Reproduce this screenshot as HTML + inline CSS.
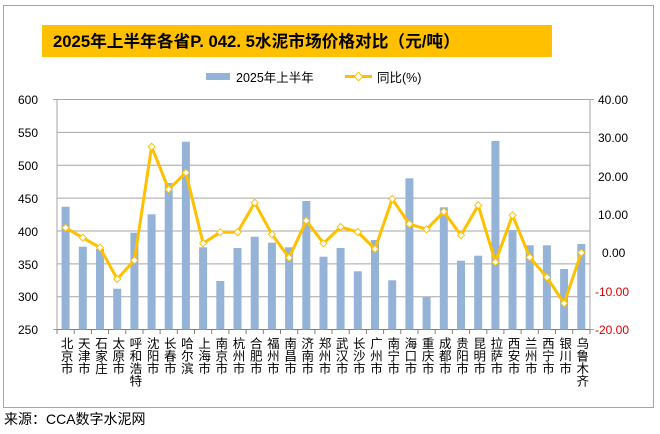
<!DOCTYPE html>
<html><head><meta charset="utf-8"><style>
body{margin:0;background:#fff;width:660px;height:434px;overflow:hidden}
svg{display:block}
text{font-family:"Liberation Sans","Noto Sans CJK SC",sans-serif}
.cat{writing-mode:tb;glyph-orientation-vertical:0;font-size:12.5px;fill:#000}
</style></head><body>
<svg width="660" height="434" viewBox="0 0 660 434">
<rect x="3.5" y="5.5" width="650" height="402" fill="#fff" stroke="#a6a6a6" stroke-width="1"/>
<rect x="42" y="25" width="510" height="32" fill="#ffc000"/>
<text x="53" y="47" font-size="16.7" font-weight="bold" fill="#000">2025年上半年各省P. 042. 5水泥市场价格对比（元/吨）</text>
<rect x="206" y="73" width="24" height="7" fill="#95b3d7"/>
<text x="236" y="82" font-size="12.5">2025年上半年</text>
<line x1="345" y1="76.5" x2="372" y2="76.5" stroke="#ffc000" stroke-width="3"/>
<rect x="355.5" y="73.5" width="6" height="6" transform="rotate(45 358.5 76.5)" fill="#fff" stroke="#ffc000"/>
<text x="377" y="82" font-size="12.5">同比(%)</text>
<g stroke="#a6a6a6" stroke-width="1">
<line x1="57" y1="99.5" x2="590" y2="99.5"/><line x1="57" y1="132.4" x2="590" y2="132.4"/><line x1="57" y1="165.3" x2="590" y2="165.3"/><line x1="57" y1="198.1" x2="590" y2="198.1"/><line x1="57" y1="231" x2="590" y2="231"/><line x1="57" y1="263.9" x2="590" y2="263.9"/><line x1="57" y1="296.7" x2="590" y2="296.7"/>
<line x1="57" y1="99" x2="57" y2="330"/><line x1="590" y1="99" x2="590" y2="330"/>
<line x1="53" y1="99.5" x2="57" y2="99.5"/><line x1="53" y1="329.5" x2="57" y2="329.5"/>
<line x1="590" y1="99.5" x2="594" y2="99.5"/><line x1="590" y1="329.5" x2="594" y2="329.5"/>
</g>
<line x1="57" y1="329.5" x2="590" y2="329.5" stroke="#808080"/>
<g stroke="#808080">
<line x1="57" y1="330" x2="57" y2="334"/><line x1="74.2" y1="330" x2="74.2" y2="334"/><line x1="91.4" y1="330" x2="91.4" y2="334"/><line x1="108.6" y1="330" x2="108.6" y2="334"/><line x1="125.8" y1="330" x2="125.8" y2="334"/><line x1="143" y1="330" x2="143" y2="334"/><line x1="160.1" y1="330" x2="160.1" y2="334"/><line x1="177.3" y1="330" x2="177.3" y2="334"/><line x1="194.5" y1="330" x2="194.5" y2="334"/><line x1="211.7" y1="330" x2="211.7" y2="334"/><line x1="228.9" y1="330" x2="228.9" y2="334"/><line x1="246.1" y1="330" x2="246.1" y2="334"/><line x1="263.3" y1="330" x2="263.3" y2="334"/><line x1="280.5" y1="330" x2="280.5" y2="334"/><line x1="297.7" y1="330" x2="297.7" y2="334"/><line x1="314.9" y1="330" x2="314.9" y2="334"/><line x1="332" y1="330" x2="332" y2="334"/><line x1="349.2" y1="330" x2="349.2" y2="334"/><line x1="366.4" y1="330" x2="366.4" y2="334"/><line x1="383.6" y1="330" x2="383.6" y2="334"/><line x1="400.8" y1="330" x2="400.8" y2="334"/><line x1="418" y1="330" x2="418" y2="334"/><line x1="435.2" y1="330" x2="435.2" y2="334"/><line x1="452.4" y1="330" x2="452.4" y2="334"/><line x1="469.6" y1="330" x2="469.6" y2="334"/><line x1="486.8" y1="330" x2="486.8" y2="334"/><line x1="503.9" y1="330" x2="503.9" y2="334"/><line x1="521.1" y1="330" x2="521.1" y2="334"/><line x1="538.3" y1="330" x2="538.3" y2="334"/><line x1="555.5" y1="330" x2="555.5" y2="334"/><line x1="572.7" y1="330" x2="572.7" y2="334"/><line x1="590" y1="330" x2="590" y2="334"/>
</g>
<g font-size="12" text-anchor="end" fill="#000">
<text x="38" y="104">600</text><text x="38" y="137">550</text><text x="38" y="170">500</text><text x="38" y="203">450</text><text x="38" y="236">400</text><text x="38" y="269">350</text><text x="38" y="301">300</text><text x="38" y="334">250</text>
</g>
<g font-size="12">
<text x="598" y="104">40.00</text><text x="598" y="142">30.00</text><text x="598" y="181">20.00</text><text x="598" y="219">10.00</text><text x="602" y="257">0.00</text><text x="595" y="296" fill="#e00000">-10.00</text><text x="595" y="334" fill="#e00000">-20.00</text>
</g>
<g fill="#95b3d7">
<rect x="61.6" y="206.7" width="8" height="122.8"/><rect x="78.8" y="246.7" width="8" height="82.8"/><rect x="96" y="249" width="8" height="80.5"/><rect x="113.2" y="288.7" width="8" height="40.8"/><rect x="130.4" y="232.7" width="8" height="96.8"/><rect x="147.6" y="214.3" width="8" height="115.2"/><rect x="164.7" y="183" width="8" height="146.5"/><rect x="181.9" y="141.7" width="8" height="187.8"/><rect x="199.1" y="247.3" width="8" height="82.2"/><rect x="216.3" y="281" width="8" height="48.5"/><rect x="233.5" y="248" width="8" height="81.5"/><rect x="250.7" y="236.7" width="8" height="92.8"/><rect x="267.9" y="242.7" width="8" height="86.8"/><rect x="285.1" y="247.3" width="8" height="82.2"/><rect x="302.3" y="201" width="8" height="128.5"/><rect x="319.5" y="256.7" width="8" height="72.8"/><rect x="336.6" y="248" width="8" height="81.5"/><rect x="353.8" y="271.3" width="8" height="58.2"/><rect x="371" y="240" width="8" height="89.5"/><rect x="388.2" y="280.3" width="8" height="49.2"/><rect x="405.4" y="178.3" width="8" height="151.2"/><rect x="422.6" y="296.7" width="8" height="32.8"/><rect x="439.8" y="207.3" width="8" height="122.2"/><rect x="457" y="260.7" width="8" height="68.8"/><rect x="474.2" y="255.7" width="8" height="73.8"/><rect x="491.4" y="141" width="8" height="188.5"/><rect x="508.5" y="230" width="8" height="99.5"/><rect x="525.7" y="245.3" width="8" height="84.2"/><rect x="542.9" y="245.3" width="8" height="84.2"/><rect x="560.1" y="269" width="8" height="60.5"/><rect x="577.3" y="244" width="8" height="85.5"/>
</g>
<polyline fill="none" stroke="#ffc000" stroke-width="3" stroke-linejoin="round" points="65.6,227.7 82.8,237.7 100,247.7 117.2,279 134.4,260.3 151.6,146.7 168.7,189.3 185.9,172.7 203.1,243.3 220.3,232.3 237.5,232.3 254.7,202.7 271.9,234.3 289.1,257.7 306.3,220.7 323.5,243.3 340.6,227 357.8,232 375,249 392.2,199 409.4,224 426.6,229.3 443.8,211.7 461,235.3 478.2,205.3 495.4,262 512.5,215.3 529.7,257.3 546.9,277.3 564.1,303.3 581.3,252.7"/>
<g fill="#fff" stroke="#ffc000" stroke-width="1">
<path d="M65.6,224.2l3.5,3.5l-3.5,3.5l-3.5,-3.5z"/><path d="M82.8,234.2l3.5,3.5l-3.5,3.5l-3.5,-3.5z"/><path d="M100,244.2l3.5,3.5l-3.5,3.5l-3.5,-3.5z"/><path d="M117.2,275.5l3.5,3.5l-3.5,3.5l-3.5,-3.5z"/><path d="M134.4,256.8l3.5,3.5l-3.5,3.5l-3.5,-3.5z"/><path d="M151.6,143.2l3.5,3.5l-3.5,3.5l-3.5,-3.5z"/><path d="M168.7,185.8l3.5,3.5l-3.5,3.5l-3.5,-3.5z"/><path d="M185.9,169.2l3.5,3.5l-3.5,3.5l-3.5,-3.5z"/><path d="M203.1,239.8l3.5,3.5l-3.5,3.5l-3.5,-3.5z"/><path d="M220.3,228.8l3.5,3.5l-3.5,3.5l-3.5,-3.5z"/><path d="M237.5,228.8l3.5,3.5l-3.5,3.5l-3.5,-3.5z"/><path d="M254.7,199.2l3.5,3.5l-3.5,3.5l-3.5,-3.5z"/><path d="M271.9,230.8l3.5,3.5l-3.5,3.5l-3.5,-3.5z"/><path d="M289.1,254.2l3.5,3.5l-3.5,3.5l-3.5,-3.5z"/><path d="M306.3,217.2l3.5,3.5l-3.5,3.5l-3.5,-3.5z"/><path d="M323.5,239.8l3.5,3.5l-3.5,3.5l-3.5,-3.5z"/><path d="M340.6,223.5l3.5,3.5l-3.5,3.5l-3.5,-3.5z"/><path d="M357.8,228.5l3.5,3.5l-3.5,3.5l-3.5,-3.5z"/><path d="M375,245.5l3.5,3.5l-3.5,3.5l-3.5,-3.5z"/><path d="M392.2,195.5l3.5,3.5l-3.5,3.5l-3.5,-3.5z"/><path d="M409.4,220.5l3.5,3.5l-3.5,3.5l-3.5,-3.5z"/><path d="M426.6,225.8l3.5,3.5l-3.5,3.5l-3.5,-3.5z"/><path d="M443.8,208.2l3.5,3.5l-3.5,3.5l-3.5,-3.5z"/><path d="M461,231.8l3.5,3.5l-3.5,3.5l-3.5,-3.5z"/><path d="M478.2,201.8l3.5,3.5l-3.5,3.5l-3.5,-3.5z"/><path d="M495.4,258.5l3.5,3.5l-3.5,3.5l-3.5,-3.5z"/><path d="M512.5,211.8l3.5,3.5l-3.5,3.5l-3.5,-3.5z"/><path d="M529.7,253.8l3.5,3.5l-3.5,3.5l-3.5,-3.5z"/><path d="M546.9,273.8l3.5,3.5l-3.5,3.5l-3.5,-3.5z"/><path d="M564.1,299.8l3.5,3.5l-3.5,3.5l-3.5,-3.5z"/><path d="M581.3,249.2l3.5,3.5l-3.5,3.5l-3.5,-3.5z"/>
</g>
<g class="cat">
<text x="65.6" y="337">北京市</text><text x="82.8" y="337">天津市</text><text x="100" y="337">石家庄</text><text x="117.2" y="337">太原市</text><text x="134.4" y="337">呼和浩特</text><text x="151.6" y="337">沈阳市</text><text x="168.7" y="337">长春市</text><text x="185.9" y="337">哈尔滨</text><text x="203.1" y="337">上海市</text><text x="220.3" y="337">南京市</text><text x="237.5" y="337">杭州市</text><text x="254.7" y="337">合肥市</text><text x="271.9" y="337">福州市</text><text x="289.1" y="337">南昌市</text><text x="306.3" y="337">济南市</text><text x="323.5" y="337">郑州市</text><text x="340.6" y="337">武汉市</text><text x="357.8" y="337">长沙市</text><text x="375" y="337">广州市</text><text x="392.2" y="337">南宁市</text><text x="409.4" y="337">海口市</text><text x="426.6" y="337">重庆市</text><text x="443.8" y="337">成都市</text><text x="461" y="337">贵阳市</text><text x="478.2" y="337">昆明市</text><text x="495.4" y="337">拉萨市</text><text x="512.5" y="337">西安市</text><text x="529.7" y="337">兰州市</text><text x="546.9" y="337">西宁市</text><text x="564.1" y="337">银川市</text><text x="581.3" y="337">乌鲁木齐</text>
</g>
<text x="4" y="424" font-size="14" fill="#000">来源：CCA数字水泥网</text>
</svg>
</body></html>
